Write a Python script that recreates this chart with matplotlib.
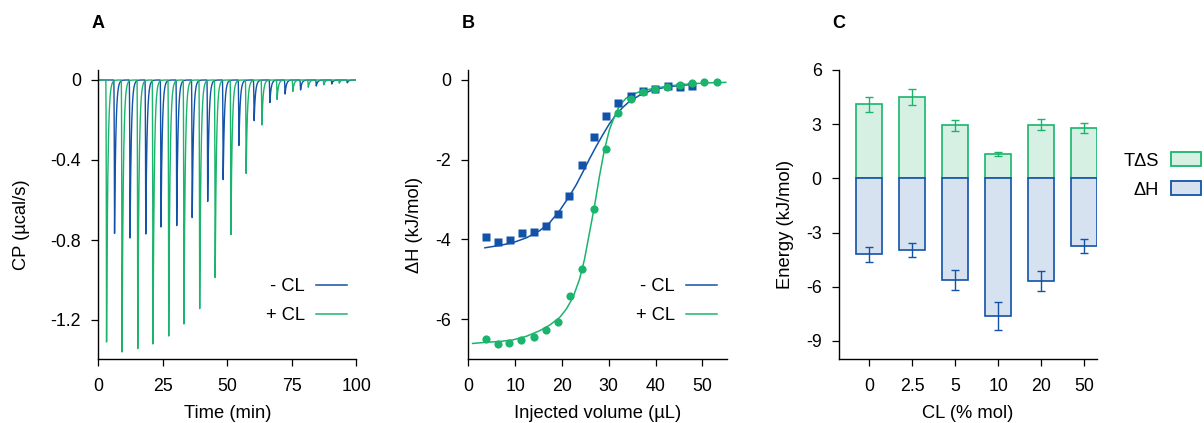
import numpy as np
import matplotlib
matplotlib.use("Agg")
import matplotlib.pyplot as plt
from matplotlib.lines import Line2D
from matplotlib.patches import Patch

plt.rcParams["font.family"] = ["Liberation Sans", "DejaVu Sans"]
plt.rcParams["axes.unicode_minus"] = False

BLUE = "#1252a8"
GREEN = "#1bb46c"
BLUE_FILL = "#d7e2f0"
GREEN_FILL = "#d6f1e4"
FS = 13.2
TICK_FS = 12.8

# ---- Panel A: raw ITC thermogram, injection times (min) and peak minima (µcal/s)
inj_time_minus = [6.3, 12.3, 18.4, 24.3, 30.4, 36.4, 42.4, 48.4, 54.5, 60.4,
                  66.5, 72.4, 78.4, 84.5, 90.5, 96.5]
peak_cp_minus = [-0.767, -0.79, -0.77, -0.735, -0.728, -0.688, -0.607, -0.498,
                 -0.327, -0.203, -0.113, -0.07, -0.05, -0.03, -0.02, -0.014]
inj_time_plus = [3.2, 9.2, 15.3, 21.2, 27.3, 33.2, 39.3, 45.3, 51.4, 57.3,
                 63.4, 69.3, 75.4, 81.4, 87.4, 93.4]
peak_cp_plus = [-1.31, -1.36, -1.343, -1.32, -1.28, -1.22, -1.143, -0.988,
                -0.773, -0.467, -0.225, -0.097, -0.057, -0.036, -0.024, -0.016]

# ---- Panel B: integrated heats (kJ/mol) vs injected volume (µL)
vol_minus = [3.76, 6.24, 8.87, 11.4, 13.97, 16.5, 19.1, 21.6, 24.3, 26.95,
             29.4, 32.06, 34.7, 37.3, 39.9, 42.6, 45.2, 47.7]
dh_minus = [-3.94, -4.07, -4.02, -3.84, -3.82, -3.67, -3.37, -2.92, -2.14,
            -1.43, -0.9, -0.575, -0.40, -0.27, -0.233, -0.15, -0.183, -0.15]
vol_plus = [3.69, 6.24, 8.79, 11.35, 13.97, 16.5, 19.1, 21.7, 24.26, 26.9,
            29.4, 32.06, 34.75, 37.3, 39.9, 42.55, 45.2, 47.8, 50.35, 53.1]
dh_plus = [-6.51, -6.625, -6.61, -6.525, -6.46, -6.27, -6.06, -5.42, -4.73,
           -3.225, -1.74, -0.84, -0.48, -0.31, -0.233, -0.18, -0.133, -0.083,
           -0.05, -0.04]

# fitted binding isotherms
fit_vol_minus = [3.55, 6.74, 9.57, 12.41, 15.25, 17.38, 19.5, 21.63, 23.05,
                 24.47, 25.89, 27.3, 28.72, 30.14, 31.56, 32.98, 34.4, 36.52,
                 39.36, 42.2, 45.74, 47.87]
fit_dh_minus = [-4.21, -4.15, -4.08, -3.96, -3.78, -3.58, -3.28, -2.91, -2.63,
                -2.31, -1.98, -1.67, -1.375, -1.1, -0.875, -0.69, -0.54, -0.39,
                -0.25, -0.18, -0.13, -0.117]
fit_vol_plus = [0.92, 3.9, 6.74, 9.57, 12.41, 15.25, 17.38, 19.5, 20.92, 22.34,
                23.76, 24.82, 25.89, 26.95, 28.01, 29.08, 30.14, 31.2, 32.27,
                33.69, 35.1, 37.23, 40.07, 43.6, 47.2, 50.7, 55.0]
fit_dh_plus = [-6.61, -6.58, -6.56, -6.52, -6.43, -6.29, -6.15, -5.96, -5.75,
               -5.46, -5.0, -4.5, -3.83, -3.17, -2.42, -1.75, -1.25, -0.92,
               -0.65, -0.46, -0.36, -0.27, -0.2, -0.14, -0.1, -0.075, -0.06]

# ---- Panel C: thermodynamic signature vs cardiolipin content
cl_labels = ["0", "2.5", "5", "10", "20", "50"]
tds = [4.09, 4.5, 2.93, 1.35, 2.98, 2.8]
tds_err = [0.41, 0.46, 0.30, 0.09, 0.30, 0.27]
dh = [-4.2, -3.98, -5.63, -7.61, -5.69, -3.76]
dh_err = [0.42, 0.38, 0.57, 0.77, 0.57, 0.38]


def cp_trace(times, peaks, t):
    """Sum of injection spikes: fast descent to the minimum, exponential return."""
    y = np.zeros_like(t)
    for t0, h in zip(times, peaks):
        rise = (t >= t0 - 0.3) & (t < t0)
        y[rise] += h * ((t[rise] - (t0 - 0.3)) / 0.3) ** 2
        dec = t >= t0
        y[dec] += h * np.exp(-(t[dec] - t0) / 0.5)
    return y


def style_axes(ax):
    for s in ("top", "right"):
        ax.spines[s].set_visible(False)
    for s in ("left", "bottom"):
        ax.spines[s].set_linewidth(1.0)
    ax.tick_params(direction="out", length=5, width=0.9, labelsize=TICK_FS)
    ax.tick_params(axis="y", pad=7.5)
    ax.tick_params(axis="x", pad=9)


W, H = 1204, 423
fig = plt.figure(figsize=(W / 100, H / 100), dpi=100)


def px_axes(left, right, top, bottom):
    return fig.add_axes([left / W, 1 - bottom / H, (right - left) / W, (bottom - top) / H])


axA = px_axes(98.3, 356.3, 70, 359)
axB = px_axes(468.3, 726.7, 70, 359)
axC = px_axes(839, 1097.3, 70, 359)

# ---------------- A
tg_m = np.unique(np.concatenate([np.arange(0, 100.0001, 0.02), inj_time_minus]))
tg_p = np.unique(np.concatenate([np.arange(0, 100.0001, 0.02), inj_time_plus]))
axA.plot(tg_m, cp_trace(inj_time_minus, peak_cp_minus, tg_m), color=BLUE, lw=1.0)
axA.plot(tg_p, cp_trace(inj_time_plus, peak_cp_plus, tg_p), color=GREEN, lw=1.0)
axA.set_xlim(0, 100)
axA.set_ylim(-1.395, 0.05)
axA.set_xticks([0, 25, 50, 75, 100])
axA.set_yticks([0, -0.4, -0.8, -1.2])
axA.set_yticklabels(["0", "-0.4", "-0.8", "-1.2"])
style_axes(axA)
axA.set_xlabel("Time (min)", fontsize=FS)
axA.set_ylabel("CP (\u00b5cal/s)", fontsize=FS)
axA.xaxis.set_label_coords(0.5, -0.16)
axA.yaxis.set_label_coords(-68.3 / 258, 0.465)

# ---------------- B
axB.plot(fit_vol_minus, fit_dh_minus, color=BLUE, lw=1.1)
axB.plot(fit_vol_plus, fit_dh_plus, color=GREEN, lw=1.1)
axB.plot(vol_minus, dh_minus, "s", color=BLUE, ms=6.3, mec="none")
axB.plot(vol_plus, dh_plus, "o", color=GREEN, ms=5.9, mec="none")
axB.set_xlim(0, 55.2)
axB.set_ylim(-7.0, 0.25)
axB.set_xticks([0, 10, 20, 30, 40, 50])
axB.set_yticks([0, -2, -4, -6])
style_axes(axB)
axB.set_xlabel("Injected volume (\u00b5L)", fontsize=FS)
axB.set_ylabel("\u0394H (kJ/mol)", fontsize=FS)
axB.xaxis.set_label_coords(0.5, -0.16)
axB.yaxis.set_label_coords(-45.3 / 258.4, 0.465)

# ---------------- C
xc = np.arange(len(cl_labels))
axC.bar(xc, tds, width=0.6, color=GREEN_FILL, edgecolor=GREEN, lw=1.2)
axC.bar(xc, dh, width=0.6, color=BLUE_FILL, edgecolor=BLUE, lw=1.2)
axC.errorbar(xc, tds, yerr=tds_err, fmt="none", ecolor=GREEN, elinewidth=1.0,
             capsize=3, capthick=1.0)
axC.errorbar(xc, dh, yerr=dh_err, fmt="none", ecolor=BLUE, elinewidth=1.0,
             capsize=3, capthick=1.0)
axC.set_xlim(-0.7, 5.3)
axC.set_ylim(-10, 6)
axC.set_xticks(xc)
axC.set_xticklabels(cl_labels)
axC.set_yticks([6, 3, 0, -3, -6, -9])
style_axes(axC)
axC.set_xlabel("CL (% mol)", fontsize=FS)
axC.set_ylabel("Energy (kJ/mol)", fontsize=FS)
axC.xaxis.set_label_coords(0.5, -0.16)
axC.yaxis.set_label_coords(-45 / 258.3, 0.465)

# ---------------- legends
line_handles = [Line2D([], [], color=BLUE, lw=1.1), Line2D([], [], color=GREEN, lw=1.1)]
for ax, right in ((axA, 347), (axB, 717.3)):
    ax.legend(line_handles, ["- CL", "+ CL"], loc="center right",
              bbox_to_anchor=(right / W, 1 - 301 / H), bbox_transform=fig.transFigure,
              frameon=False, markerfirst=False, handlelength=1.7, handletextpad=0.6,
              labelspacing=0.65, borderpad=0, borderaxespad=0, fontsize=FS)

patch_handles = [Patch(facecolor=GREEN_FILL, edgecolor=GREEN, lw=1.3),
                 Patch(facecolor=BLUE_FILL, edgecolor=BLUE, lw=1.3)]
axC.legend(patch_handles, ["T\u0394S", "\u0394H"], loc="center right",
           bbox_to_anchor=(1201 / W, 1 - 175.5 / H), bbox_transform=fig.transFigure,
           frameon=False, markerfirst=False, handlelength=1.65, handleheight=0.8,
           handletextpad=0.65, labelspacing=0.65, borderpad=0, borderaxespad=0,
           fontsize=FS)

# ---------------- panel letters
for ax, letter in ((axA, "A"), (axB, "B"), (axC, "C")):
    x0 = ax.get_position().x0
    fig.text(x0, 1 - 23.5 / H, letter, ha="center", va="center",
             fontsize=13, fontweight="bold")

fig.savefig("out.png", dpi=100)
